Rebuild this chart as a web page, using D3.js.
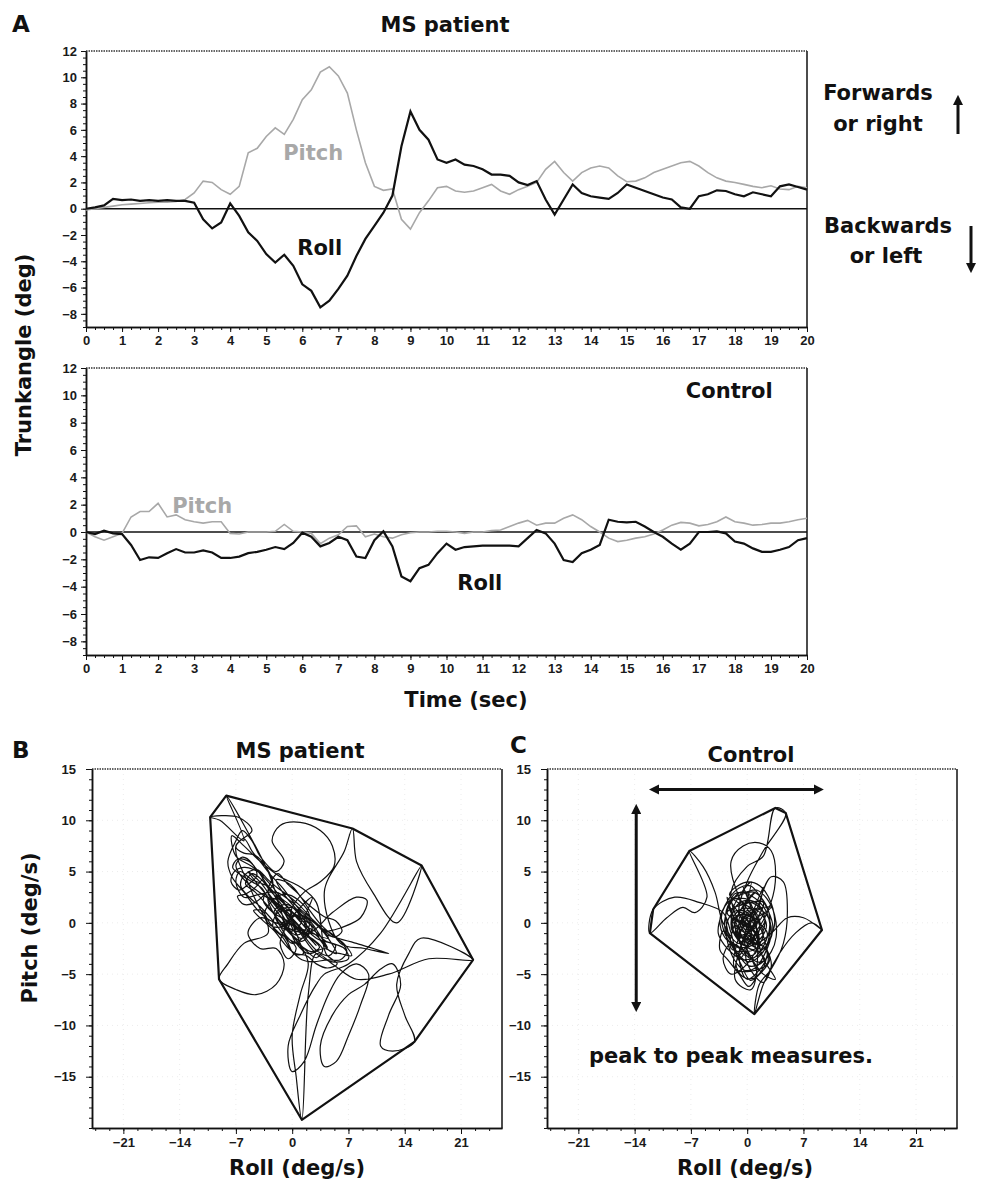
<!DOCTYPE html>
<html>
<head>
<meta charset="utf-8">
<script src="https://cdn.jsdelivr.net/npm/d3@7/dist/d3.min.js"></script>
<style>
  body { margin: 0; background: #fff; }
  svg { font-family: "DejaVu Sans", sans-serif; }
  .tick text { font-size: 13px; font-weight: bold; fill: #1a1a1a; }
  .tick line, .domain { stroke: #111; }
</style>
</head>
<body>
<svg width="984" height="1184"></svg>
<script>
// Time axis (sec) shared by all four traces
const seconds = [0, 0.25, 0.5, 0.75, 1, 1.25, 1.5, 1.75, 2, 2.25, 2.5, 2.75, 3, 3.25, 3.5, 3.75,
  4, 4.25, 4.5, 4.75, 5, 5.25, 5.5, 5.75, 6, 6.25, 6.5, 6.75, 7, 7.25, 7.5, 7.75,
  8, 8.25, 8.5, 8.75, 9, 9.25, 9.5, 9.75, 10, 10.25, 10.5, 10.75, 11, 11.25, 11.5, 11.75,
  12, 12.25, 12.5, 12.75, 13, 13.25, 13.5, 13.75, 14, 14.25, 14.5, 14.75, 15, 15.25, 15.5, 15.75,
  16, 16.25, 16.5, 16.75, 17, 17.25, 17.5, 17.75, 18, 18.25, 18.5, 18.75, 19, 19.25, 19.5, 19.75, 20];

// MS patient trunk angle (deg)
const msRoll = [0, 0.1, 0.25, 0.75, 0.65, 0.7, 0.6, 0.65, 0.6, 0.65, 0.6, 0.6, 0.45, -0.8, -1.5, -1.05,
  0.4, -0.55, -1.8, -2.45, -3.45, -4.1, -3.5, -4.35, -5.75, -6.25, -7.5, -7.0, -6.1, -5.1, -3.6, -2.3,
  -1.3, -0.3, 1.0, 4.75, 7.4, 6.0, 5.25, 3.75, 3.5, 3.75, 3.35, 3.25, 3.0, 2.6, 2.6, 2.5,
  2.0, 1.8, 2.1, 0.7, -0.45, 0.7, 1.85, 1.2, 0.95, 0.85, 0.75, 1.2, 1.85, 1.6, 1.35, 1.1,
  0.85, 0.7, 0.1, 0.0, 0.95, 1.1, 1.4, 1.35, 1.1, 0.95, 1.25, 1.1, 0.95, 1.7, 1.85, 1.65, 1.45];
const msPitch = [-0.1, 0.0, 0.1, 0.2, 0.3, 0.35, 0.4, 0.45, 0.5, 0.5, 0.55, 0.7, 1.2, 2.1, 2.0, 1.45,
  1.1, 1.7, 4.25, 4.6, 5.5, 6.15, 5.65, 6.8, 8.3, 9.05, 10.4, 10.8, 10.1, 8.8, 6.0, 3.5,
  1.7, 1.4, 1.5, -0.8, -1.55, -0.3, 0.6, 1.6, 1.7, 1.35, 1.25, 1.35, 1.6, 1.85, 1.35, 1.1,
  1.45, 1.7, 2.0, 3.0, 3.6, 2.75, 2.1, 2.75, 3.1, 3.25, 3.1, 2.5, 2.05, 2.1, 2.35, 2.75,
  3.0, 3.25, 3.5, 3.6, 3.25, 2.75, 2.35, 2.1, 2.0, 1.85, 1.7, 1.6, 1.75, 1.5, 1.45, 1.7, 1.6];

// Control trunk angle (deg)
const ctrlRoll = [0, -0.15, 0.1, -0.1, -0.15, -0.95, -2.05, -1.85, -1.9, -1.55, -1.25, -1.5, -1.5, -1.35, -1.5, -1.9,
  -1.9, -1.8, -1.55, -1.45, -1.3, -1.1, -1.25, -0.8, -0.05, -0.35, -1.05, -0.8, -0.35, -0.6, -1.8, -1.9,
  -0.6, 0.05, -1.05, -3.25, -3.6, -2.65, -2.4, -1.55, -0.85, -1.3, -1.1, -1.05, -1.0, -1.0, -1.0, -1.0,
  -1.05, -0.45, 0.15, -0.1, -0.85, -2.05, -2.2, -1.55, -1.3, -0.95, 0.9, 0.75, 0.7, 0.75, 0.4, 0.0,
  -0.35, -0.85, -1.3, -0.85, 0.0, 0.0, 0.05, -0.1, -0.7, -0.85, -1.2, -1.45, -1.45, -1.3, -1.1, -0.6, -0.45];
const ctrlPitch = [0, -0.35, -0.6, -0.35, -0.1, 1.1, 1.5, 1.5, 2.1, 1.1, 1.25, 0.9, 0.75, 0.65, 0.75, 0.75,
  -0.1, -0.15, 0.0, 0.0, 0.0, 0.05, 0.55, 0.05, 0.0, -0.1, -0.85, -0.45, -0.2, 0.4, 0.45, -0.35,
  -0.15, -0.35, -0.45, -0.2, -0.05, 0.0, 0.0, 0.05, 0.05, 0.0, -0.1, 0.0, 0.0, 0.1, 0.15, 0.4,
  0.65, 0.85, 0.5, 0.65, 0.65, 1.0, 1.25, 0.9, 0.4, 0.0, -0.45, -0.7, -0.6, -0.45, -0.35, -0.15,
  0.15, 0.5, 0.7, 0.65, 0.45, 0.55, 0.75, 1.1, 0.75, 0.65, 0.5, 0.55, 0.65, 0.65, 0.75, 0.9, 1.0];

const timeTicks = [0, 1, 2, 3, 4, 5, 6, 7, 8, 9, 10, 11, 12, 13, 14, 15, 16, 17, 18, 19, 20];
const angleTicks = [12, 10, 8, 6, 4, 2, 0, -2, -4, -6, -8];

// Roll vs pitch velocity (deg/s), [roll, pitch]
const msPath = [
  [0, 0], [1.5, -1], [3, -2.2], [1, -0.5], [-1.5, 1.5], [-3, 2.8], [-1, 1], [1, -1.5], [2.5, -0.5], [0.5, 0.8],
  [-2, 2], [-4, 4], [-5.5, 5], [-3.5, 3], [-1, 0.5], [0.5, -2], [2, -3], [4, -2.5], [5.5, -3], [4, -1],
  [2, 0.5], [0, 1.5], [-2, 1], [-1, -1], [0.5, -2.5], [-0.5, -3.5], [-1.5, -2], [-0.5, 0], [1, 1.5], [2.5, 2.5],
  [1.5, 0], [3, -1.5], [5, -2], [6.5, -2.5], [7, -3.5], [5, -3.8], [3, -3], [1, -1], [-1, 1], [-3, 3.5],
  [-5, 4.2], [-6.5, 5], [-7, 4], [-6, 2.5], [-4, 2.8], [-2, 3], [0, 2], [1.5, 1], [3, 0], [4.5, -1.5],
  [-1, 0], [0.5, -1.2], [1.8, -0.4], [0.8, 1], [-0.8, 1.8], [-2.2, 1.2], [-1.5, -0.3], [0, -0.8], [1.2, 0.2], [0.2, 1.4],
  [-1.4, 2.4], [-2.8, 3.2], [-3.6, 2.2], [-2.4, 1], [-0.6, 0.2], [1, -0.9], [2.6, -1.6], [3.8, -2.6], [3, -3.4], [1.6, -2.6],
  [0.4, -1.6], [-0.8, -0.6], [-2, 0.6], [-3.2, 1.8], [-4.6, 3], [-5.8, 3.8], [-5, 4.8], [-3.8, 4.2], [-2.6, 3], [-1.2, 2],
  [0, 1], [1.4, -0.2], [2.8, -0.8], [4.2, -1.8], [5.4, -2.2], [4.6, -3.2], [3.2, -2.8], [2, -1.8], [0.6, -0.4], [-0.6, 0.8],
  [-1.8, 2.2], [-3, 2.4], [-2.2, 0.8], [-0.8, -0.4], [0.6, -1.8], [1.4, -3], [0.2, -3], [-0.6, -1.8], [-1.6, -0.6], [-2.6, 0.4],
  [-4, 1.6], [-5.2, 2.4], [-6.4, 3.6], [-6, 4.6], [-4.4, 5.2], [-3, 4.2], [-1.8, 3.4], [-0.4, 2.6], [0.8, 1.8], [2, 0.8],
  [3.4, -0.4], [4.8, -1], [6, -1.8], [6.8, -2.8], [6, -3.6], [4.4, -3.6], [2.6, -3.8], [1.2, -3.6], [0, -2.8], [-1.2, -1.4],
  [-2.4, -0.4], [-1.8, 1], [-0.4, 1.2], [1, 0.4], [2.2, -0.8], [1.2, -1.8], [-0.2, -1], [-1.4, 0.6], [-2.6, 1.8], [-3.8, 3.4],
  [-5, 4], [-6.6, 4.8], [-7.4, 5.4], [-6.8, 6.2], [-5.4, 6], [-4.2, 5], [-3.2, 3.8], [-1.8, 2.6], [-0.6, 1.6], [0.6, 0.6],
  [1.8, -0.6], [3, -1.2], [4.4, -2.4], [3.6, -1.4], [2.4, 0], [1, 0.8], [-0.4, 0.2], [-1, -1], [0, -2], [1.6, -1.2],
  [2.2, 0.6], [0.8, 2.2], [-1, 2.8], [-2.4, 2.2], [-3.4, 1], [-2.8, -0.2], [-1.4, -0.4], [0, 0.4],
  [-5, 3.5], [-6.2, 4.4], [-7, 5.6], [-6.2, 6.4], [-5, 5.8], [-4.4, 4.6], [-5.4, 3.8], [-6.6, 3.2], [-7.6, 4], [-7.2, 5],
  [-6, 5.4], [-4.8, 5.2], [-3.6, 4.6], [-4.4, 3.6], [-5.8, 2.8], [-6.8, 2.6], [-6, 1.8], [-4.6, 2], [-3.4, 2.8], [-2.4, 3.8],
  [-3.2, 5.4], [-4.6, 6.6], [-6, 6.8], [-7, 7.4], [-6, 8.2], [-5, 7], [-3.8, 5.8], [-2.6, 4.6], [-1.4, 3.6], [-0.2, 2.4],
  [1, 1.2], [2.4, 0.2], [3.8, -0.6], [5.2, -1.4], [6.2, -0.8], [5.4, 0.2], [4, 0.6], [2.6, 1.4], [1.2, 2.4], [0.2, 3.4],
  [-0.8, 4], [-2, 4.2], [-1.2, 3], [0, 1.8], [1.4, 0.6], [2.6, -0.4], [3.6, -1.8], [4.8, -2.8], [6, -3], [7.4, -3.2],
  [6.4, -2], [5, -1.2], [3.6, -0.2], [2.2, 1.2], [0.8, 2.8], [-0.6, 3.8], [-1.8, 4.8], [-3, 3], [-1.6, 1.4], [-0.2, 0.6],
  [1, -0.4], [2.2, -1.4], [3.4, -2.4], [2.4, -2.8], [1, -2.2], [-0.4, -1.6], [-1.6, -1], [-2.8, 0], [-3.8, 1.2], [-4.8, 1.2],
  [-3.6, 0.2], [-2.2, -0.8], [-0.8, -2.2], [0.4, -3], [1.8, -3.2], [3, -4], [4.4, -4.4], [5.6, -4], [4.2, -3],
  [3, 2], [1, 3.5], [-1.5, 4.5], [-4, 6], [-6, 7.5], [-7.5, 8.5], [-7, 6.5], [-5, 5.5], [-3, 4], [-1, 2],
  [0, 0.5], [-2, 0], [-4, 1], [-6, 3], [-7.5, 4.5], [-8, 6], [-7, 8], [-6.2, 9], [-5, 8], [-4, 6.5],
  [-2, 5], [-1, 6], [-2.5, 8], [-1.5, 9.5], [1, 9.8], [3.5, 9], [5, 7.5], [5.2, 5.5], [3.5, 4], [1.5, 3],
  [0, 1.5], [-0.5, -0.5], [-3, 5], [-8.2, 12.4], [-6, 8], [-9, 10], [-10.2, 10.3], [-6.7, 10.3], [-5, 9], [-7, 7.5],
  [-5, 3], [-3, -1], [-6, -2], [-8, -4], [-9.1, -5.5], [-7, -6.5], [-4.5, -7], [-2, -6], [-1, -4], [-2, -2.5],
  [-4, -2.5], [-5.5, -1], [-4, 0.5], [-2, 0], [2, -1], [5, 1], [8, 2.5], [9.3, 2.2], [8.5, 0.5], [6, -0.5],
  [4, -1], [8, -2], [12, -3], [9, -2.5], [6, -2], [4, 3], [6.5, 7], [7.5, 9.2], [8, 6], [10, 3],
  [13, 0], [16.1, 5.6], [11, -1], [7, -4], [4, -5], [3, -6], [1, -9], [-0.5, -12], [0, -14.5], [1.5, -13.5],
  [3, -10], [4.5, -7], [6, -5], [8, -4], [9.5, -5], [8.5, -8], [7, -11], [5.5, -13.5], [4, -14], [3.5, -12],
  [5, -9], [7, -7], [9, -6], [11, -4.5], [12.5, -4], [13.5, -6], [12, -9], [11, -12], [12.5, -12.5], [15.2, -11.6],
  [14, -9], [13, -6], [14.5, -3], [16, -1.5], [22.5, -3.6], [17, -3.5], [12, -5], [8, -5.5], [5, -4], [3, -3],
  [2, -7], [1.2, -19.2], [0.5, -15], [0, -11], [1, -7], [2, -4], [1, -2], [0, 0]
];
const ctrlPath = [
  [0, 0], [1.5, -1.5], [-0.5, 1.5], [1, 3], [-1.5, 0], [0.5, -3.5], [2.5, -1], [-1, 1], [1, -2.5], [-2, -2.5],
  [0, 2], [2, 1], [-1, -1.5], [0.5, 4], [-2, 0.5], [2.5, -3], [0, -5.5], [-1, -3], [2, 2], [-2.5, 1],
  [1, -0.5], [-0.5, 3.5], [2.5, -4], [-1.5, -4.5], [0.5, 1], [3, 1.5], [-1, -1], [1.5, -2.5], [-2.5, 2.5], [0, -2],
  [0.5, -0.5], [-1, 0.8], [-2, -0.4], [-0.8, -1.8], [0.8, -2.6], [2, -1.2], [1.2, 0.6], [-0.2, 1.8], [-1.6, 2.4], [-2.6, 1.2],
  [-2.2, -1.4], [-1.2, -3], [0.2, -3.8], [1.6, -3.2], [2.6, -1.8], [2.8, 0], [2, 1.6], [0.6, 2.6], [-0.8, 3], [-2, 2],
  [-2.8, 0.2], [-2.4, -2], [-1.6, -3.6], [-0.4, -4.6], [1, -4.4], [2.2, -3], [3, -1], [2.4, 0.8], [1, 1.4], [-0.4, 0.6],
  [-1.2, -0.8], [-0.4, -2.2], [1, -1.6], [1.6, 0], [0.8, 1.2], [-0.6, 1.4], [-1.8, 0.4], [-1.4, -1.2], [0, -1], [1.2, -0.2],
  [0.4, 0.8], [-1, 0], [-0.6, -1.4], [0.8, -2], [2.2, -2.4], [2.8, -3.6], [1.8, -4.8], [0.4, -5.6], [-0.8, -4], [-1.8, -2.4],
  [-2.8, -1], [-3.2, 0.6], [-2.4, 2.2], [-1, 3.4], [0.4, 3.6], [1.6, 2.6], [2.6, 1.2], [3.2, -0.4], [2.6, -2], [1.4, -2.8],
  [0, -2.4], [-1.2, -1.6], [-2, -0.2], [-1.4, 1.6], [0, 2.2], [1.4, 1.8], [2.2, 0.4], [1.8, -1], [0.6, -1.2], [-0.6, -0.2],
  [0, 0.8], [1, 0], [0.2, -0.8], [-0.8, -2.6], [-0.2, -3.2], [1, -3], [1.4, -1.6], [0.2, -0.4], [-1.2, 0.2], [-2.2, 1.4],
  [-1.6, 2.8], [-0.2, 3], [1.2, 3.2], [2.4, 2.4], [3.4, 0.8], [3.6, -1.4], [3, -2.8], [1.6, -4], [0.2, -4.2], [-1, -3.2],
  [-2, -1.8], [-3, -0.8], [-3.4, -2.6], [-2.4, -3.6], [-1, -5], [0.2, -6.2], [1.2, -5], [0.6, -3.6], [-0.4, -1.6], [0.4, 0.2],
  [0.8, 0.4], [-0.6, 1.2], [-1.8, 1], [-2.6, -0.4], [-2, -1.8], [-0.8, -2.4], [0.6, -2.2], [1.8, -1.4], [2.4, -0.2], [1.6, 1],
  [0.2, 1.6], [-1.2, 2], [-2.2, 2.8], [-1.2, 3.6], [0.2, 4], [1.6, 3.6], [2.6, 2.6], [3.2, 1.4], [3.4, -0.2], [2.8, -1.6],
  [2, -2.8], [0.8, -3.4], [-0.6, -3.6], [-1.8, -3], [-2.8, -2.2], [-3.6, -1], [-3.2, 0.8], [-2.4, 2], [-1, 2.4], [0.4, 2.2],
  [1.6, 1.6], [2.2, 0.2], [1.4, -0.8], [0.2, -1.6], [-1, -1.2], [-1.6, 0], [-0.8, 0.8], [0.4, 0.6], [1.2, -0.6], [0.6, -1.8],
  [-0.4, -2.6], [-1.4, -4], [-0.6, -5.2], [0.8, -5.4], [2, -4.4], [2.6, -3], [3, -4.2], [2, -5.8], [0.6, -4.8], [-0.2, -3.2],
  [0.4, -1.6], [1.4, -2.2], [2.4, -1.6], [2.8, 0.6], [2, 2.2], [0.8, 3], [-0.6, 2.8], [-1.8, 2.4], [-2.8, 1.6], [-3.4, 0.2],
  [-2.8, -1.4], [-1.6, -2.2], [-0.2, -2.8], [1.2, -3.8], [2.2, -3.6], [1.2, -2.6], [0, -1.4], [-1, 0.4], [0, 1.2], [1, 0.8],
  [2, 3.5], [-1.5, -5.5], [0.5, -6.5], [1, 0], [-1, 2.5], [-2, 6], [-0.5, 7.5], [1.5, 7.8], [3, 7], [3.5, 4],
  [2.5, 1], [1, -1], [-1, -3.5], [-2, -1], [-3, 1], [-6, 2], [-9, 2.5], [-11.7, 1.3], [-12.1, -1], [-10, 0.5],
  [-8, 1.5], [-6.5, 1], [-5, 2.5], [-7.2, 7], [-5.5, 5.5], [-4, 3], [-3, 0], [-1, -2], [1, 1], [3, 4.5],
  [4.5, 4], [5, 1], [4.5, -2], [3, -4.5], [1.5, -6], [0.9, -8.9], [2, -6], [4, -3], [6, -1], [8, 0],
  [9.3, -0.7], [7, 0.5], [5, 0.5], [3, -1], [1, -2], [-1, 0], [-2, 3], [0, 5.5], [2, 6.5], [3.5, 11.2],
  [4.8, 10.7], [2, 7], [0, 4], [-1, 1], [1, -1], [2, -3.5], [3.5, -5.5], [2, -5], [0, -3], [-2, -2],
  [-3, -3.5], [-2, -5], [0, -4], [1.5, -1.5], [0, 0.5], [-1.5, -1], [0, -1.5], [1, 0.5]
];
const rollTicks = [-21, -14, -7, 0, 7, 14, 21];
const pitchTicks = [15, 10, 5, 0, -5, -10, -15];

const svg = d3.select("svg");

function label(g, text, x, y, opts = {}) {
  return g.append("text")
    .text(text)
    .attr("x", x)
    .attr("y", y)
    .attr("text-anchor", opts.anchor || "middle")
    .attr("transform", opts.rotate ? `rotate(-90,${x},${y})` : null)
    .style("font-size", (opts.size || 21) + "px")
    .style("font-weight", opts.weight || "bold")
    .style("fill", opts.fill || "#111");
}

// frame: left/bottom come from the axes, right solid, top dotted
function frame(x0, x1, y0, y1) {
  svg.append("line").attr("x1", x1).attr("x2", x1).attr("y1", y0).attr("y2", y1)
    .attr("stroke", "#111").attr("stroke-width", 1.5);
  svg.append("line").attr("x1", x0).attr("x2", x1).attr("y1", y0).attr("y2", y0)
    .attr("stroke", "#333").attr("stroke-width", 1.5).attr("stroke-dasharray", "1.5,1");
}

// ---- Panel A: trunk angle over time ----
function timePanel(y0, y1, roll, pitch) {
  const x = d3.scaleLinear().domain([0, 20]).range([86, 807]);
  const y = d3.scaleLinear().domain([-9, 12]).range([y1, y0]);

  frame(86, 807, y0, y1);

  svg.append("g").attr("transform", `translate(0,${y1})`)
    .call(d3.axisBottom(x).tickValues(d3.range(0, 20.01, 0.25)).tickFormat("").tickSize(3).tickSizeOuter(0));
  svg.append("g").attr("transform", `translate(0,${y1})`)
    .call(d3.axisBottom(x).tickValues(timeTicks).tickFormat(d3.format("d")).tickSize(5).tickSizeOuter(0).tickPadding(4));
  svg.append("g").attr("transform", "translate(86,0)")
    .call(d3.axisLeft(y).tickValues(d3.range(-9, 12.01, 0.5)).tickFormat("").tickSize(3).tickSizeOuter(0));
  svg.append("g").attr("transform", "translate(86,0)")
    .call(d3.axisLeft(y).tickValues(angleTicks).tickFormat(d3.format("d")).tickSize(5).tickSizeOuter(0).tickPadding(4));
  svg.selectAll(".domain").attr("stroke-width", 1.5);

  svg.append("line")
    .attr("x1", x(0)).attr("x2", x(20)).attr("y1", y(0)).attr("y2", y(0))
    .attr("stroke", "#111").attr("stroke-width", 1.5);

  const line = v => d3.line().x((d, i) => x(seconds[i])).y((d, i) => y(v[i]))(v);
  svg.append("path").attr("d", line(pitch))
    .attr("fill", "none").attr("stroke", "#a8a8a8").attr("stroke-width", 1.6);
  svg.append("path").attr("d", line(roll))
    .attr("fill", "none").attr("stroke", "#111").attr("stroke-width", 2.2);
  return { x, y };
}

const panelMS = timePanel(51, 327, msRoll, msPitch);
const panelCtrl = timePanel(368, 655, ctrlRoll, ctrlPitch);

label(svg, "Pitch", panelMS.x(5.47), panelMS.y(3.7), { anchor: "start", fill: "#a8a8a8" });
label(svg, "Roll", panelMS.x(5.86), panelMS.y(-3.5), { anchor: "start" });
label(svg, "Pitch", panelCtrl.x(2.39), panelCtrl.y(1.4), { anchor: "start", fill: "#a8a8a8" });
label(svg, "Roll", panelCtrl.x(10.3), panelCtrl.y(-4.25), { anchor: "start" });
label(svg, "Control", panelCtrl.x(16.64), panelCtrl.y(9.8), { anchor: "start" });

label(svg, "A", 12, 32, { anchor: "start", size: 23 });
label(svg, "MS patient", 445, 32);
label(svg, "Trunkangle (deg)", 31, 355, { rotate: true });
label(svg, "Time (sec)", 466, 707);

label(svg, "Forwards", 878, 100);
label(svg, "or right", 878, 131);
label(svg, "Backwards", 888, 233);
label(svg, "or left", 886, 263);

svg.append("defs").html(`
  <marker id="head" viewBox="0 0 10 10" refX="5" refY="5" markerWidth="3.4" markerHeight="3.4" orient="auto-start-reverse">
    <path d="M0,0 L10,5 L0,10 z" fill="#111"/>
  </marker>`);

function arrow(x1, y1, x2, y2, both) {
  svg.append("line")
    .attr("x1", x1).attr("y1", y1).attr("x2", x2).attr("y2", y2)
    .attr("stroke", "#111").attr("stroke-width", 3)
    .attr("marker-end", "url(#head)")
    .attr("marker-start", both ? "url(#head)" : null);
}
arrow(958, 134, 958, 100);
arrow(971, 226, 971, 268);

// ---- Panels B and C: roll vs pitch ----
function phasePanel(left, right, path) {
  const x = d3.scaleLinear().domain([-24.9, 26.1]).range([left, right]);
  const y = d3.scaleLinear().domain([-20, 15]).range([1128, 769]);

  // faint dotted grid
  svg.append("g").selectAll("line").data(rollTicks).join("line")
    .attr("x1", d => x(d)).attr("x2", d => x(d)).attr("y1", 769).attr("y2", 1128)
    .attr("stroke", "#ececec").attr("stroke-dasharray", "1,4");
  svg.append("g").selectAll("line").data(pitchTicks).join("line")
    .attr("x1", left).attr("x2", right).attr("y1", d => y(d)).attr("y2", d => y(d))
    .attr("stroke", "#ececec").attr("stroke-dasharray", "1,4");

  frame(left, right, 769, 1128);

  svg.append("g").attr("transform", "translate(0,1128)")
    .call(d3.axisBottom(x).tickValues(d3.range(-24.5, 26, 1.75)).tickFormat("").tickSize(3).tickSizeOuter(0));
  svg.append("g").attr("transform", "translate(0,1128)")
    .call(d3.axisBottom(x).tickValues(rollTicks).tickFormat(d3.format("d")).tickSize(6).tickSizeOuter(0).tickPadding(4));
  svg.append("g").attr("transform", `translate(${left},0)`)
    .call(d3.axisLeft(y).tickValues(d3.range(-20, 15.01, 1)).tickFormat("").tickSize(3).tickSizeOuter(0));
  svg.append("g").attr("transform", `translate(${left},0)`)
    .call(d3.axisLeft(y).tickValues(pitchTicks).tickFormat(d3.format("d")).tickSize(6).tickSizeOuter(0).tickPadding(10));
  svg.selectAll(".domain").attr("stroke-width", 1.5);

  const pts = path.map(d => [x(d[0]), y(d[1])]);
  svg.append("path")
    .attr("d", d3.line().curve(d3.curveCatmullRom.alpha(0.5))(pts))
    .attr("fill", "none").attr("stroke", "#111").attr("stroke-width", 1.2);

  const hull = d3.polygonHull(pts);
  svg.append("path")
    .attr("d", "M" + hull.join("L") + "Z")
    .attr("fill", "none").attr("stroke", "#111").attr("stroke-width", 2.2)
    .attr("stroke-linejoin", "round");
  return { x, y };
}

phasePanel(92, 502, msPath);
const panelC = phasePanel(547, 957, ctrlPath);

label(svg, "B", 12, 758, { anchor: "start", size: 23 });
label(svg, "MS patient", 300, 758);
label(svg, "Roll (deg/s)", 297, 1175);
label(svg, "Pitch (deg/s)", 37, 928, { rotate: true });

label(svg, "C", 510, 753, { anchor: "start", size: 23 });
label(svg, "Control", 751, 762);
label(svg, "Roll (deg/s)", 745, 1175);

arrow(panelC.x(-11.6), panelC.y(13), panelC.x(8.9), panelC.y(13), true);
arrow(panelC.x(-13.8), panelC.y(11.1), panelC.x(-13.8), panelC.y(-8.2), true);
label(svg, "peak to peak measures.", 731, 1063);
</script>
</body>
</html>
